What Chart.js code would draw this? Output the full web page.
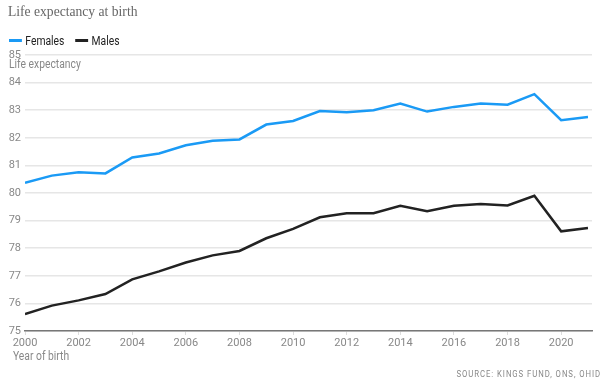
<!DOCTYPE html>
<html>
<head>
<meta charset="utf-8">
<script src="https://cdn.jsdelivr.net/npm/chart.js@4.4.1/dist/chart.umd.min.js"></script>
<style>
  body { margin: 0; background: #fff; }
  #wrap { position: relative; width: 615px; height: 388px; overflow: hidden; }
  #chart { position: absolute; left: 0; top: 0; }
  .narrow { font-family: Roboto, sans-serif; transform: scaleX(0.86); transform-origin: left center; white-space: nowrap; }
  #title { position: absolute; left: 8px; top: 4px; font-family: 'Liberation Serif', serif; font-size: 13.6px; color: #666; }
  #legend { position: absolute; left: 9px; top: 34px; width: 200px; font-size: 12px; color: #222; }
  .item { position: absolute; top: 0; white-space: nowrap; }
  .swatch { display: inline-block; width: 15px; height: 3px; vertical-align: middle; margin-right: 4px; position: relative; top: -1px; }
  #ylabel { position: absolute; left: 9px; top: 57px; font-size: 12px; color: #888; }
  #xlabel { position: absolute; left: 13px; top: 349px; font-size: 12px; color: #888; }
  #source { position: absolute; right: 14px; top: 369px; font-size: 9px; letter-spacing: 1.1px; color: #888; font-family: Roboto, sans-serif; transform: scaleX(0.86); transform-origin: right center; white-space: nowrap; }
</style>
</head>
<body>
<div id="wrap">
  <canvas id="chart" width="615" height="388"></canvas>
  <div id="title">Life expectancy at birth</div>
  <div id="legend" class="narrow">
    <span class="item" style="left:0"><span class="swatch" style="background:#1a9af5"></span>Females</span>
    <span class="item" style="left:77px"><span class="swatch" style="background:#222"></span>Males</span>
  </div>
  <div id="ylabel" class="narrow">Life expectancy</div>
  <div id="xlabel" class="narrow">Year of birth</div>
  <div id="source">SOURCE: KINGS FUND, ONS, OHID</div>
</div>
<script>
// Datos
const years = [2000, 2001, 2002, 2003, 2004, 2005, 2006, 2007, 2008, 2009, 2010,
               2011, 2012, 2013, 2014, 2015, 2016, 2017, 2018, 2019, 2020, 2021];
const females = [80.37, 80.63, 80.75, 80.71, 81.29, 81.43, 81.73, 81.89, 81.94, 82.48, 82.61,
                 82.97, 82.93, 83.0, 83.24, 82.95, 83.12, 83.24, 83.2, 83.58, 82.64, 82.75];
const males = [75.61, 75.92, 76.11, 76.34, 76.87, 77.16, 77.48, 77.74, 77.9, 78.36, 78.7,
               79.12, 79.27, 79.27, 79.54, 79.34, 79.54, 79.6, 79.55, 79.9, 78.61, 78.73];
const yTicks = [75, 76, 77, 78, 79, 80, 81, 82, 83, 84, 85];
const xTicks = [2000, 2002, 2004, 2006, 2008, 2010, 2012, 2014, 2016, 2018, 2020];

const tickFont = { family: 'Roboto, sans-serif', size: 11 };

const ctx = document.getElementById('chart').getContext('2d');
new Chart(ctx, {
    type: 'line',
    data: {
        datasets: [{
            label: 'Females',
            data: years.map((y, i) => ({ x: y, y: females[i] })),
            borderColor: '#1a9af5',
            borderWidth: 2.5,
            pointRadius: 0,
            tension: 0
        }, {
            label: 'Males',
            data: years.map((y, i) => ({ x: y, y: males[i] })),
            borderColor: '#222222',
            borderWidth: 2.5,
            pointRadius: 0,
            tension: 0
        }]
    },
    options: {
        responsive: false,
        animation: false,
        devicePixelRatio: 1,
        layout: { padding: { left: 0, right: 23, top: 55, bottom: 29 } },
        plugins: {
            legend: { display: false },
            tooltip: { enabled: false }
        },
        scales: {
            x: {
                type: 'linear',
                min: 2000,
                max: 2021.15,
                afterBuildTicks: scale => {
                    scale.ticks = xTicks.map(v => ({ value: v }));
                },
                afterFit: scale => { scale.height = 28; },
                ticks: {
                    callback: v => String(v),
                    color: '#888',
                    font: tickFont,
                    padding: 2,
                    maxRotation: 0
                },
                grid: { drawOnChartArea: false, drawTicks: true, tickLength: 4, color: '#ddd' },
                border: { color: '#777', width: 1.5 }
            },
            y: {
                min: 75,
                max: 85,
                afterBuildTicks: scale => {
                    scale.ticks = yTicks.map(v => ({ value: v }));
                },
                afterFit: scale => { scale.width = 25; },
                ticks: {
                    color: '#888',
                    font: tickFont,
                    padding: 4
                },
                grid: { color: '#e6e6e6', lineWidth: 1.5, drawTicks: false },
                border: { display: false }
            }
        }
    }
});
</script>
</body>
</html>
